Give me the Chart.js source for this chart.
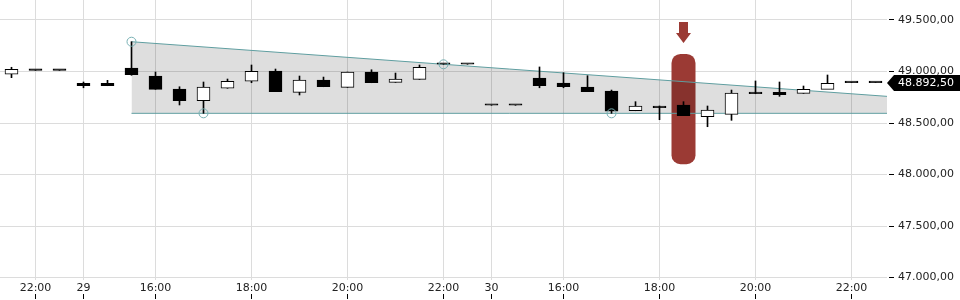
<!DOCTYPE html>
<html>
<head>
<meta charset="utf-8">
<script src="https://cdn.jsdelivr.net/npm/chart.js@4"></script>
<style>
  html, body { margin: 0; padding: 0; background: #fff; }
  #wrap { width: 960px; height: 300px; }
</style>
</head>
<body>
<div id="wrap"><canvas id="c"></canvas></div>
<script>
// 30 minute candles, 28. - 30.
const times = ['21:30','22:00','22:30',
  '14:30','15:00','15:30','16:00','16:30','17:00','17:30','18:00','18:30','19:00','19:30',
  '20:00','20:30','21:00','21:30','22:00','22:30',
  '14:30','15:00','15:30','16:00','16:30','17:00','17:30','18:00','18:30','19:00','19:30',
  '20:00','20:30','21:00','21:30','22:00','22:30'];
const opens  = [48973,49011,49011,48885,48885,49034,48956,48830,48716,48837,48905,49005,48798,48917,48846,48995,48895,48924,49070,49070,
                48672,48672,48937,48888,48849,48811,48619,48665,48675,48561,48584,48801,48798,48788,48827,48892.5,48892.5];
const highs  = [49041,49011,49011,48898,48914,49289,48995,48852,48898,48927,49063,49024,48956,48946,48995,49017,48985,49063,49070,49070,
                48672,48672,49044,48988,48959,48820,48707,48665,48707,48665,48820,48908,48898,48859,48966,48892.5,48892.5];
const lows   = [48940,49011,49011,48842,48862,48963,48827,48675,48594,48837,48891,48804,48772,48852,48846,48891,48895,48924,49070,49070,
                48672,48672,48842,48842,48804,48594,48619,48532,48571,48464,48526,48784,48759,48788,48885,48892.5,48892.5];
const closes = [49021,49011,49011,48862,48862,48969,48827,48716,48849,48905,49002,48804,48917,48852,48995,48891,48927,49041,49070,49070,
                48672,48672,48862,48852,48804,48616,48665,48648,48571,48626,48791,48784,48775,48827,48885,48892.5,48892.5];

const tickIdx    = [1, 3, 6, 10, 14, 18, 20, 23, 27, 31, 35];
const tickLabels = ['22:00','29','16:00','18:00','20:00','22:00','30','16:00','18:00','20:00','22:00'];
const priceTicks = [47000, 47500, 48000, 48500, 49000, 49500];

// triangle: touch points (index) on highs and lows
const upperTouch = [5, 18];
const lowerTouch = [8, 25];
const highlightIdx = 28;
const highlightRange = [49170, 48100];

const X_MIN = -0.479, X_MAX = 36.479;
const teal = '#5f9ea0';
const red = '#9b3a34';

function fmt(v) {
  const s = v.toFixed(2).split('.');
  return s[0].replace(/\B(?=(\d{3})+(?!\d))/g, '.') + ',' + s[1];
}

function line(touch, src, from, to) {
  const [a, b] = touch;
  const k = (src[b] - src[a]) / (b - a);
  return [{ x: from, y: src[a] + k * (from - a) }, { x: to, y: src[a] + k * (to - a) }];
}

const idx = times.map((t, i) => i);
const wicks = idx.map(i => ({ x: i, y: [lows[i], highs[i]] }));
const bodies = idx.map(i => ({ x: i, y: [opens[i], closes[i]] }));
const bodyFill = idx.map(i => closes[i] > opens[i] ? '#fff' : '#000');
const touches = upperTouch.map(i => ({ x: i, y: highs[i] })).concat(lowerTouch.map(i => ({ x: i, y: lows[i] })));

const decor = {
  id: 'decor',
  beforeDatasetsDraw(chart) {
    const { ctx, scales: { x, y } } = chart;
    const cx = x.getPixelForValue(highlightIdx);
    const top = y.getPixelForValue(highlightRange[0]);
    const bot = y.getPixelForValue(highlightRange[1]);
    ctx.save();
    ctx.fillStyle = red;
    ctx.beginPath();
    ctx.roundRect(cx - 12, top, 24, bot - top, 9);
    ctx.fill();
    const tip = top - 11;
    ctx.beginPath();
    ctx.moveTo(cx, tip);
    ctx.lineTo(cx - 7.5, tip - 10);
    ctx.lineTo(cx - 4.5, tip - 10);
    ctx.lineTo(cx - 4.5, tip - 21);
    ctx.lineTo(cx + 4.5, tip - 21);
    ctx.lineTo(cx + 4.5, tip - 10);
    ctx.lineTo(cx + 7.5, tip - 10);
    ctx.closePath();
    ctx.fill();
    ctx.restore();
  },
  afterDraw(chart) {
    const { ctx, chartArea, scales: { x, y } } = chart;
    ctx.save();
    ctx.strokeStyle = '#000';
    ctx.lineWidth = 1;
    ctx.beginPath();
    priceTicks.forEach(v => {
      const py = Math.round(y.getPixelForValue(v) - 0.5) + 0.5;
      ctx.moveTo(chartArea.right + 2, py);
      ctx.lineTo(chartArea.right + 7, py);
    });
    tickIdx.forEach(i => {
      const px = Math.round(x.getPixelForValue(i) - 0.5) + 0.5;
      ctx.moveTo(px, 294);
      ctx.lineTo(px, 299);
    });
    ctx.stroke();
    // last price marker
    const last = closes[closes.length - 1];
    const yc = y.getPixelForValue(last) + 0.5;
    const l = chartArea.right;
    ctx.fillStyle = '#000';
    ctx.beginPath();
    ctx.moveTo(l, yc);
    ctx.lineTo(l + 7, yc - 8);
    ctx.lineTo(960, yc - 8);
    ctx.lineTo(960, yc + 8);
    ctx.lineTo(l + 7, yc + 8);
    ctx.closePath();
    ctx.fill();
    ctx.fillStyle = '#fff';
    ctx.font = '11px "DejaVu Sans"';
    ctx.textBaseline = 'middle';
    ctx.fillText(fmt(last), l + 11, yc + 0.5);
    ctx.restore();
  }
};

function noPad(s) {
  s.paddingLeft = 0; s.paddingRight = 0; s.paddingTop = 0; s.paddingBottom = 0;
}

new Chart(document.getElementById('c'), {
  type: 'bar',
  data: {
    datasets: [
      { type: 'line', data: line(upperTouch, highs, upperTouch[0], X_MAX), borderColor: teal, borderWidth: 1,
        pointRadius: 0, fill: '+1', backgroundColor: 'rgba(0,0,0,0.13)', order: 10 },
      { type: 'line', data: line(lowerTouch, lows, upperTouch[0], X_MAX), borderColor: teal, borderWidth: 1,
        pointRadius: 0, fill: false, order: 9 },
      { data: wicks, backgroundColor: '#000', barThickness: 1, order: 3 },
      { data: bodies, backgroundColor: bodyFill, borderColor: '#000', borderWidth: 1, borderSkipped: false,
        barThickness: 13, minBarLength: 1.5, order: 2 },
      { type: 'scatter', data: touches, pointRadius: 4.5, borderWidth: 1, borderColor: '#78b0b3',
        backgroundColor: 'rgba(0,0,0,0)', order: 1 }
    ]
  },
  options: {
    responsive: true,
    maintainAspectRatio: false,
    animation: false,
    layout: { padding: 0, autoPadding: false },
    plugins: { legend: { display: false }, tooltip: { enabled: false } },
    datasets: { bar: { grouped: false } },
    scales: {
      x: {
        type: 'linear', min: X_MIN, max: X_MAX, offset: false,
        grid: { color: '#dcdcdc', drawTicks: false, offset: false },
        border: { display: false },
        afterBuildTicks: s => { s.ticks = tickIdx.map(v => ({ value: v })); },
        afterFit: s => { s.height = 20; noPad(s); },
        ticks: {
          autoSkip: false, maxRotation: 0, padding: 2, color: '#222',
          font: { family: 'DejaVu Sans', size: 11 },
          callback: v => tickLabels[tickIdx.indexOf(v)]
        }
      },
      y: {
        position: 'right', min: 46976, max: 49694,
        grid: { color: '#dcdcdc', drawTicks: false },
        border: { display: false },
        afterBuildTicks: s => { s.ticks = priceTicks.map(v => ({ value: v })); },
        afterFit: s => { s.width = 73; noPad(s); },
        ticks: {
          padding: 11, color: '#222',
          font: { family: 'DejaVu Sans', size: 11 },
          callback: v => fmt(v)
        }
      }
    }
  },
  plugins: [decor]
});
</script>
</body>
</html>
